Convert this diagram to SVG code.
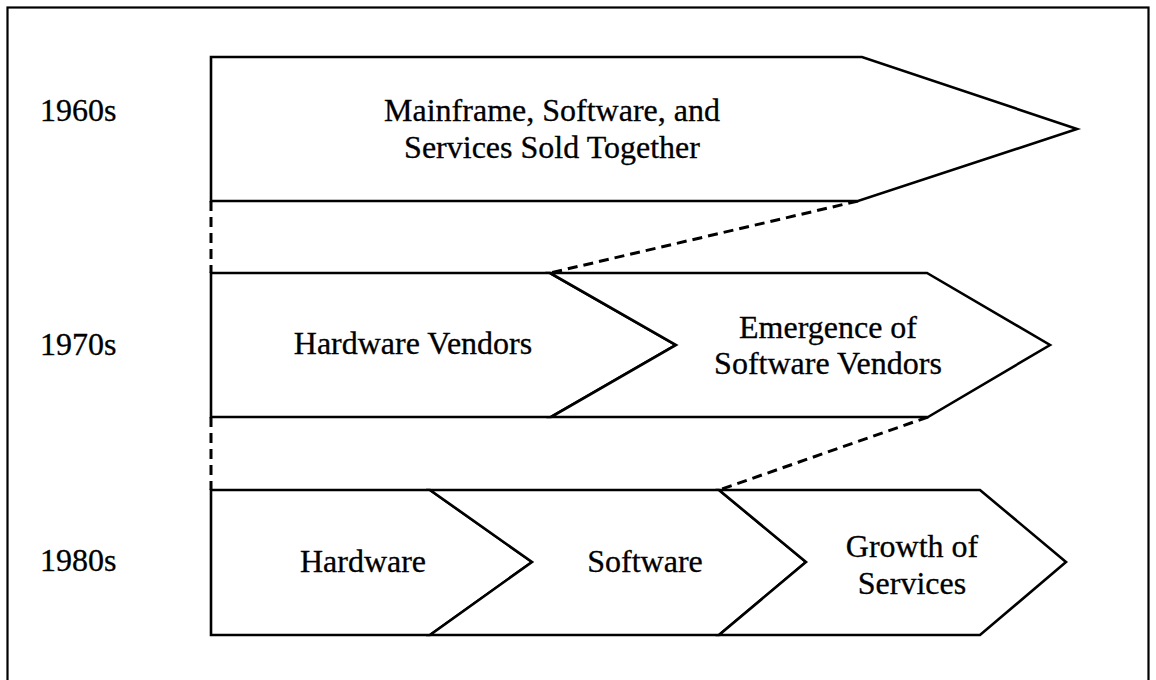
<svg xmlns="http://www.w3.org/2000/svg" width="1156" height="680" viewBox="0 0 1156 680">
  <style>
    .frame { fill: none; stroke: #000; stroke-width: 2.2; }
    .shape { fill: #fff; stroke: #000; stroke-width: 2.6; stroke-linejoin: miter; }
    .link { fill: none; stroke: #000; stroke-width: 3; stroke-dasharray: 10 6; }
    text { font-family: "Liberation Serif", "Times New Roman", serif; font-size: 32px; fill: #000; stroke: #000; stroke-width: 0.3; }
    .mid { text-anchor: middle; }
  </style>

  <rect width="1156" height="680" fill="#fff"/>
  <!-- outer border -->
  <rect class="frame" x="7.5" y="7.5" width="1141" height="700"/>

  <!-- decade labels -->
  <g id="decades">
    <text x="40" y="121">1960s</text>
    <text x="40" y="355">1970s</text>
    <text x="40" y="571">1980s</text>
  </g>

  <!-- dashed connectors between rows -->
  <g id="connectors">
    <line class="link" x1="211" y1="201" x2="211" y2="273"/>
    <line class="link" x1="211" y1="417" x2="211" y2="490"/>
    <line class="link" x1="858" y1="201" x2="550" y2="273"/>
    <line class="link" x1="928" y1="417" x2="719" y2="490"/>
  </g>

  <!-- 1960s -->
  <g id="bundled">
    <polygon class="shape" points="211,57 862,57 1077,129 858,201 211,201"/>
    <text class="mid" x="552" y="121">Mainframe, Software, and</text>
    <text class="mid" x="552" y="158">Services Sold Together</text>
  </g>

  <!-- 1970s -->
  <g id="hardware-vendors">
    <polygon class="shape" points="211,273 550,273 676,345 551,417 211,417"/>
    <text class="mid" x="413" y="354">Hardware Vendors</text>
  </g>
  <g id="software-vendors">
    <polygon class="shape" points="550,273 927,273 1050,345 928,417 551,417 676,345"/>
    <text class="mid" x="828" y="338">Emergence of</text>
    <text class="mid" x="828" y="374">Software Vendors</text>
  </g>

  <!-- 1980s -->
  <g id="hardware">
    <polygon class="shape" points="211,490 430,490 532,562 430,635 211,635"/>
    <text class="mid" x="363" y="572">Hardware</text>
  </g>
  <g id="software">
    <polygon class="shape" points="430,490 719,490 806,562 719,635 430,635 532,562"/>
    <text class="mid" x="645" y="572">Software</text>
  </g>
  <g id="services">
    <polygon class="shape" points="719,490 980,490 1066,562 980,635 719,635 806,562"/>
    <text class="mid" x="912" y="557">Growth of</text>
    <text class="mid" x="912" y="594">Services</text>
  </g>
</svg>
